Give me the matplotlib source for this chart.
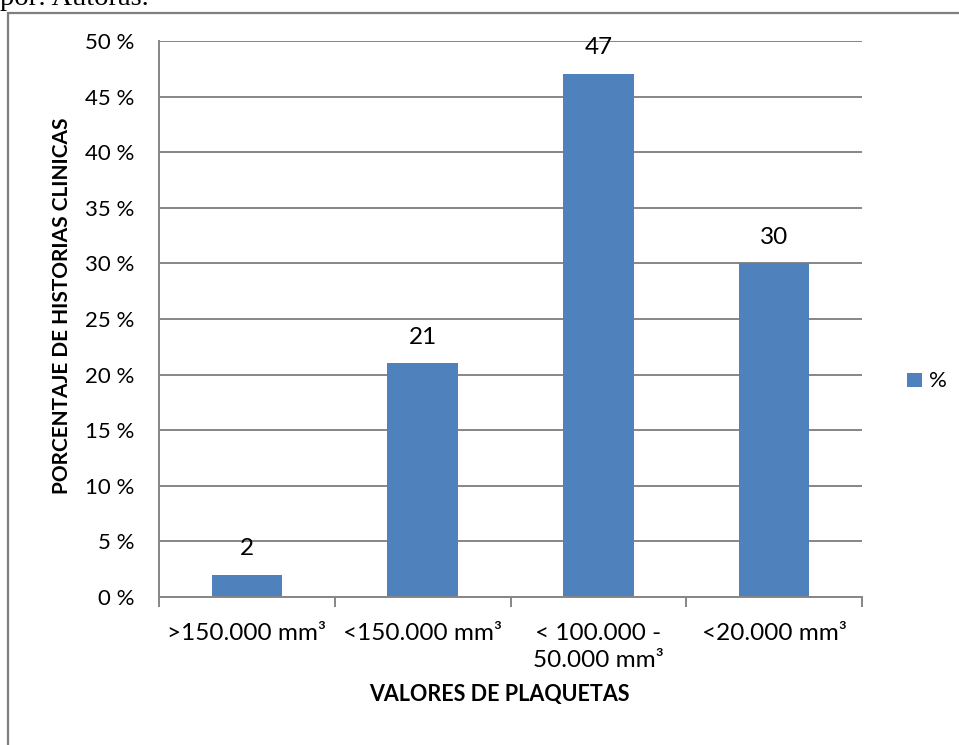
import matplotlib
matplotlib.use("Agg")
import matplotlib.pyplot as plt
from matplotlib.patches import Rectangle
import numpy as np

categories = [">150.000 mm³", "<150.000 mm³", "< 100.000 -\n50.000 mm³", "<20.000 mm³"]
values = [2, 21, 47, 30]
y_ticks = [0, 5, 10, 15, 20, 25, 30, 35, 40, 45, 50]
series_name = "%"

W, H = 959, 745
fig = plt.figure(figsize=(W / 100, H / 100), dpi=100)
plt.rcParams["font.family"] = ["Lato", "DejaVu Sans"]

grid_c = "#868686"
bar_c = "#4F81BD"
fs = 16
fs_big = 17.5

# outer frame of the embedded chart
fig.patches.append(Rectangle((8 / W, -0.2), 1.2, 1 - 13 / H + 0.2,
                             transform=fig.transFigure, fill=False,
                             edgecolor="#7f7f7f", linewidth=1.6, zorder=0))
fig.text(0, 1 - 5 / H, "por: Autoras.", family="Liberation Serif",
         fontsize=20.5, ha="left", va="baseline")

ax = fig.add_axes([159 / W, 1 - 597 / H, (862 - 159) / W, (597 - 41) / H])
x = np.arange(len(categories))
ax.bar(x, values, width=0.40, color=bar_c, zorder=2)
ax.set_xlim(-0.5, len(categories) - 0.5)
ax.set_ylim(0, 50)
ax.set_yticks(y_ticks)
ax.set_yticklabels([f"{v} %" for v in y_ticks], fontsize=fs)
ax.yaxis.grid(True, color=grid_c, linewidth=1.4, zorder=1)
ax.set_axisbelow(True)
ax.tick_params(axis="y", length=0, pad=18)

ax.set_xticks(x)
ax.set_xticklabels(categories, fontsize=fs_big, linespacing=1.35, va="top")
ax.tick_params(axis="x", length=0, pad=19)
ax.set_xticks(np.arange(len(categories) + 1) - 0.5, minor=True)
ax.tick_params(axis="x", which="minor", length=7, width=1.4, color=grid_c)

for s in ["top", "right"]:
    ax.spines[s].set_visible(False)
for s in ["left", "bottom"]:
    ax.spines[s].set_color(grid_c)
    ax.spines[s].set_linewidth(1.4)

for xi, v in zip(x, values):
    ax.annotate(str(v), (xi, v), xytext=(0, 19), textcoords="offset points",
                ha="center", va="center", fontsize=fs_big, zorder=5)

fig.text(62 / W, 1 - 306 / H, "PORCENTAJE DE HISTORIAS CLINICAS", rotation=90,
         ha="center", va="center", fontsize=15, fontweight="bold")
fig.text(499 / W, 1 - 694 / H, "VALORES DE PLAQUETAS",
         ha="center", va="center", fontsize=15.5, fontweight="bold")

# legend
fig.patches.append(Rectangle((907 / W, 1 - 387 / H), 15 / W, 14 / H,
                             transform=fig.transFigure, facecolor=bar_c,
                             edgecolor="none"))
fig.text(929 / W, 1 - 381 / H, series_name, ha="left", va="center", fontsize=fs)

fig.savefig("out.png", dpi=100)
